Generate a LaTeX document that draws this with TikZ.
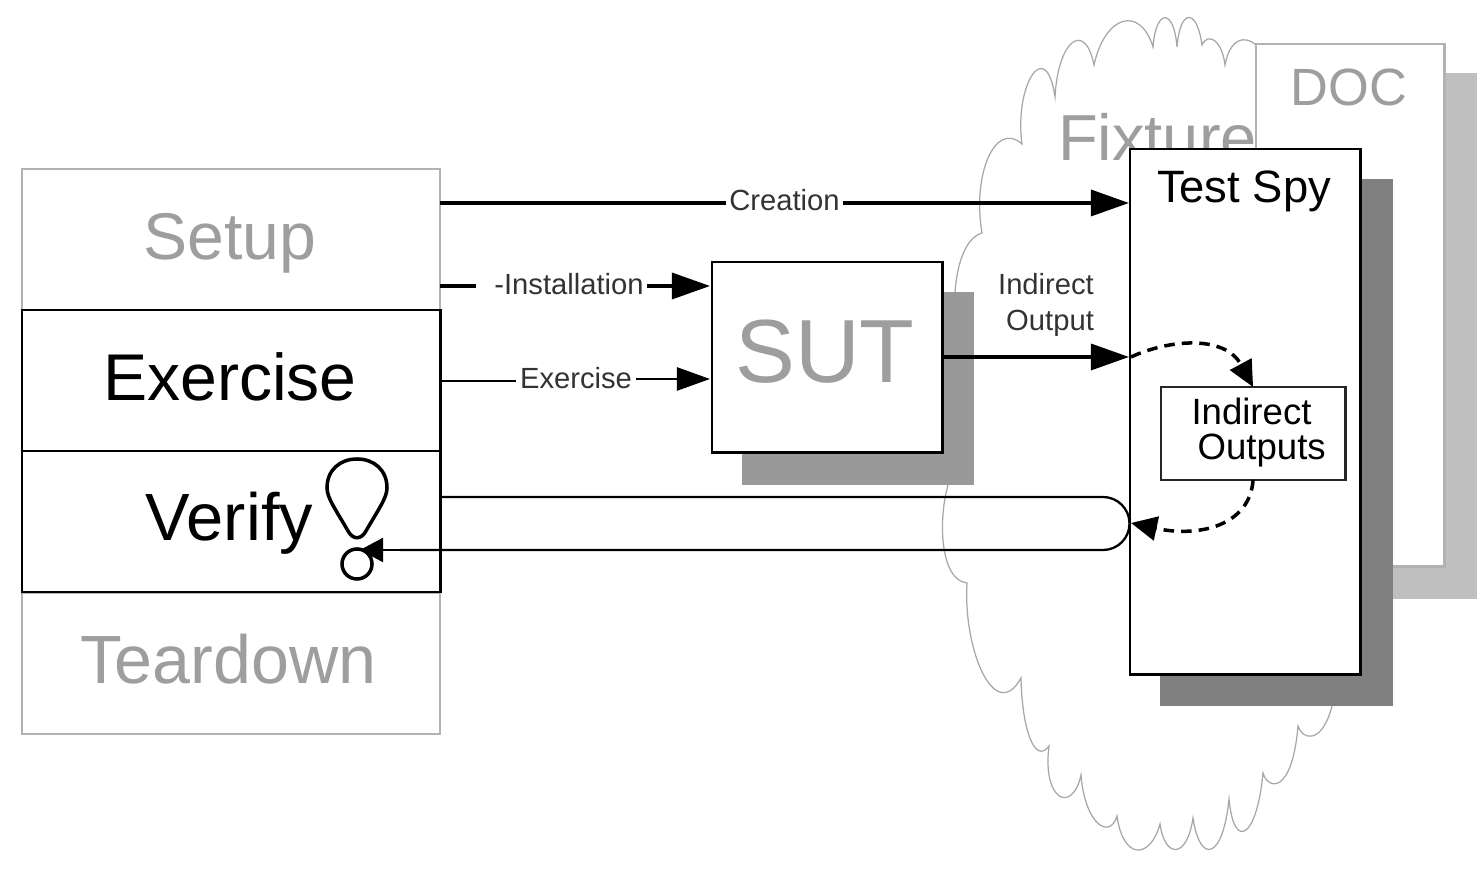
\documentclass[tikz,border=0pt]{standalone}
\usepackage{fontspec}
\setmainfont{Liberation Sans}
\usetikzlibrary{arrows}
\usetikzlibrary{arrows.meta}
\definecolor{faded}{gray}{0.62}
\tikzset{box/.style = {draw, fill = white, anchor = north west, inner sep = 0, outer sep = 0, line width = 0.8pt},
  phase/.style = {box, minimum width = 4.18cm, minimum height = 1.41cm},
  fadedbox/.style = {draw = gray!60, line width = 0.7pt},
  flow/.style = {-{Triangle[length = 0.38cm, width = 0.26cm]}, line width = 0.95pt},
  thinflow/.style = {-{Triangle[length = 0.33cm, width = 0.23cm]}, line width = 0.7pt},
  dots/.style = {-{Triangle[length = 0.26cm, width = 0.24cm]}, dash pattern = on 3pt off 2pt, line width = 1pt},
  cloudline/.style = {gray!70, line width = 0.35pt},
  flowlab/.style = {fill = white, text = black!80, font = \fontsize{8.3}{10}\selectfont, inner sep = 1pt},
  phaselab/.style = {font = \fontsize{18.8}{20}\selectfont}}

\begin{document}
\begin{tikzpicture}[x=0.01cm, y=-0.01cm]
  \useasboundingbox (0, 0) rectangle (1484, 886);

  % fixture cloud
  \draw [cloudline] (948, 485) .. controls (938, 520) and (940, 580) .. (967, 583)
    .. controls (963, 650) and (995, 725) .. (1021, 678)
    .. controls (1022, 730) and (1035, 765) .. (1049, 746)
    .. controls (1042, 800) and (1072, 815) .. (1081, 775)
    .. controls (1085, 825) and (1110, 840) .. (1117, 816)
    .. controls (1123, 860) and (1150, 860) .. (1160, 824)
    .. controls (1165, 859) and (1187, 859) .. (1193, 818)
    .. controls (1200, 865) and (1223, 860) .. (1229, 799)
    .. controls (1234, 852) and (1257, 838) .. (1263, 773)
    .. controls (1268, 790) and (1292, 795) .. (1298, 726)
    .. controls (1302, 740) and (1322, 745) .. (1332, 706);
  \draw [cloudline] (955, 292) .. controls (957, 265) and (965, 238) .. (982, 233)
    .. controls (972, 175) and (995, 120) .. (1022, 144)
    .. controls (1014, 85) and (1046, 35) .. (1055, 97)
    .. controls (1058, 40) and (1085, 20) .. (1094, 65)
    .. controls (1105, 15) and (1140, 5) .. (1153, 47)
    .. controls (1156, 8) and (1174, 8) .. (1177, 47)
    .. controls (1180, 8) and (1197, 8) .. (1202, 45)
    .. controls (1208, 32) and (1222, 40) .. (1225, 65)
    .. controls (1230, 38) and (1245, 35) .. (1256, 45);

  % DOC with its shadow
  \fill [gray!50] (1287, 73) rectangle (1477, 599);
  \node (doc) [box, fadedbox, minimum width = 1.885cm, minimum height = 5.22cm] at (1256, 44) {};
  \node (doclab) [text = faded, font = \fontsize{14.9}{16}\selectfont] at (1349, 87) {DOC};
  \node (fixturelab) [text = faded, font = \fontsize{18.5}{20}\selectfont] at (1157.5, 137) {Fixture};

  % test spy
  \fill [gray] (1160, 179) rectangle (1393, 706);
  \node (spy) [box, minimum width = 2.3cm, minimum height = 5.25cm] at (1130, 149) {};
  \node (spylab) [font = \fontsize{12.9}{14}\selectfont] at (1244, 191) {Test Spy};
  \node (outputs) [box, draw = gray!30!black, minimum width = 1.84cm, minimum height = 0.93cm] at (1161, 387) {};
  \node (outputslab) [align = center, font = \fontsize{10.4}{10}\selectfont] at (1251.5, 432.5) {Indirect\\ \ \ Outputs};

  % SUT
  \fill [gray!80] (742, 292) rectangle (974, 485);
  \node (sut) [box, minimum width = 2.3cm, minimum height = 1.9cm] at (712, 262) {};
  \node (sutlab) [text = faded, font = \fontsize{25.5}{26}\selectfont] at (825, 352) {SUT};

  % phases
  \node (setup) [phase, fadedbox] at (22, 169) {};
  \node (teardown) [phase, fadedbox] at (22, 593) {};
  \node (exercise) [phase] at (22, 310) {};
  \node (verify) [phase] at (22, 451) {};
  \node (setuplab) [phaselab, text = faded] at (230, 243.5) {Setup};
  \node (exerciselab) [phaselab] at (230, 377) {Exercise};
  \node (verifylab) [phaselab, font = \fontsize{19}{20}\selectfont] at (229.5, 523.5) {Verify};
  \node (teardownlab) [phaselab, text = faded, font = \fontsize{19.4}{20}\selectfont] at (228.5, 659) {Teardown};

  \coordinate (creationstart) at (440, 203);
  \coordinate (installstart) at (440, 286);
  \coordinate (exercisestart) at (440, 381);
  \coordinate (creationend) at (1129, 203);
  \coordinate (installend) at (710, 286);
  \coordinate (exerciseend) at (710, 379);
  \coordinate (outputstart) at (942, 357);
  \coordinate (outputend) at (1129, 357);
  \coordinate (inside) at (1131, 357);
  \coordinate (returnspot) at (1131, 523);
  \coordinate (callstart) at (440, 497);
  \coordinate (callturn) at (1103, 497);
  \coordinate (callback) at (400, 550);
  \coordinate (callend) at (360, 550);

  \draw [flow] (creationstart) -- node [flowlab, yshift = 0.03cm] {Creation} (creationend);
  \draw [flow] (installstart) -- node [flowlab, pos = 0.45, yshift = 0.02cm] {\hspace{0.15cm}-Installation} (installend);
  \node (exerciseflow) [flowlab] at (576, 378) {Exercise};
  \draw [thinflow, -] (exercisestart) -- (exerciseflow.west |- exercisestart);
  \draw [thinflow] (exerciseflow.east |- exerciseend) -- (exerciseend);
  \draw [flow] (outputstart) -- (outputend);
  \node (outputlab) [align = right, flowlab, fill = none] at (1046, 305) {Indirect\hspace{0.04cm}\\Output};

  \draw [dots] (inside) .. controls (1170, 339) and (1225, 335) .. (outputs.north);
  \draw [dots] (outputs.south) .. controls (1250, 525) and (1200, 538) .. (returnspot);

  % verify loop
  \draw [line width = 0.65pt] (callstart) -- (callturn) arc [start angle = 90, end angle = -90, radius = 0.265cm] -- (callback);
  \draw [line width = 0.65pt, -{Triangle[length = 0.23cm, width = 0.24cm]}] (callback) -- (callend);

  % assertion mark
  \draw [line width = 1pt] (327, 488) .. controls (327, 470) and (340, 459) .. (357, 459)
    .. controls (374, 459) and (387, 470) .. (387, 488)
    .. controls (387, 498) and (378, 510) .. (366, 531)
    .. controls (361, 540) and (353, 540) .. (348, 531)
    .. controls (336, 510) and (327, 498) .. (327, 488) -- cycle;
  \draw [line width = 1pt] (357, 564) circle [radius = 0.15cm];
\end{tikzpicture}
\end{document}
